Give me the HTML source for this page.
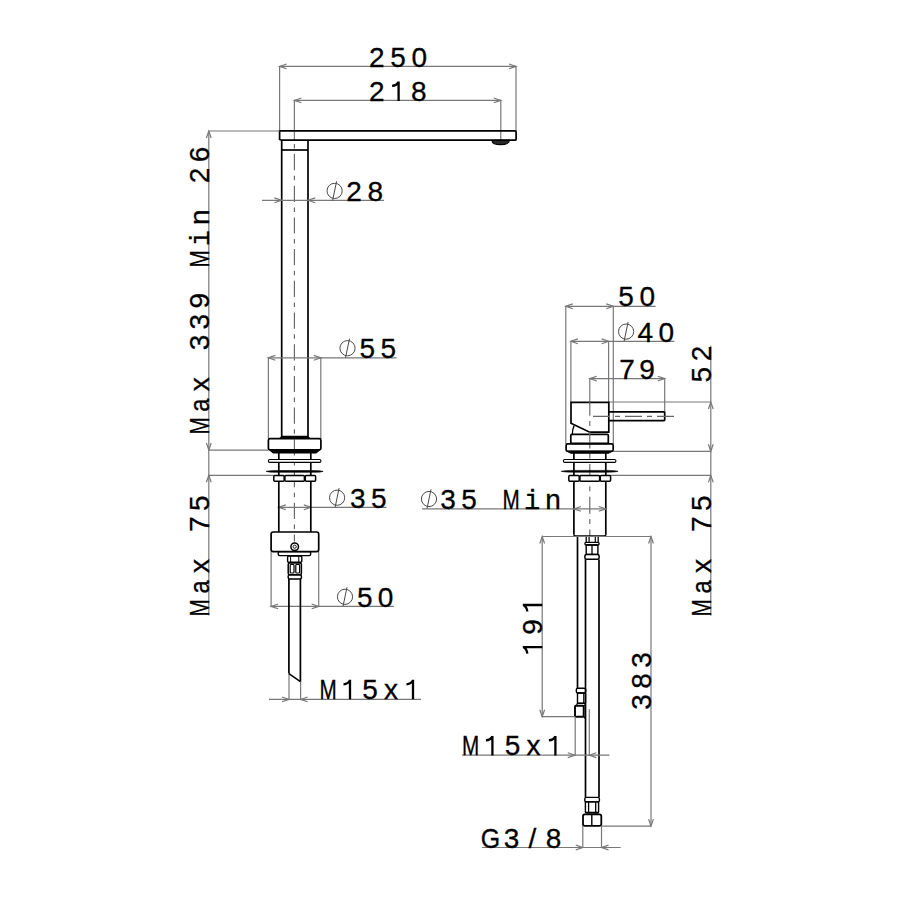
<!DOCTYPE html>
<html><head><meta charset="utf-8"><style>
html,body{margin:0;padding:0;background:#fff;width:900px;height:900px;overflow:hidden}
svg{display:block}
text{fill:#000;stroke:#000;stroke-width:0.3}
</style></head><body>
<svg width="900" height="900" viewBox="0 0 900 900">
<rect width="900" height="900" fill="#fff"/>
<line x1="279.6" y1="66.4" x2="279.6" y2="131" stroke="#787878" stroke-width="1.2" />
<line x1="516" y1="66.4" x2="516" y2="131" stroke="#787878" stroke-width="1.2" />
<line x1="279.6" y1="66.4" x2="516" y2="66.4" stroke="#787878" stroke-width="1.2" />
<path d="M286.60,64.00 L279.6,66.4 L286.60,68.80" fill="none" stroke="#787878" stroke-width="1.2"/>
<path d="M509.00,68.80 L516,66.4 L509.00,64.00" fill="none" stroke="#787878" stroke-width="1.2"/>
<text x="0" y="0" font-family="Liberation Sans" font-size="28" text-anchor="middle" transform="translate(376.7,66.7)">2</text>
<text x="0" y="0" font-family="Liberation Sans" font-size="28" text-anchor="middle" transform="translate(398.0,66.7)">5</text>
<text x="0" y="0" font-family="Liberation Sans" font-size="28" text-anchor="middle" transform="translate(419.3,66.7)">0</text>
<line x1="294.4" y1="100.4" x2="294.4" y2="140" stroke="#787878" stroke-width="1.2" />
<line x1="500.8" y1="100.4" x2="500.8" y2="140.3" stroke="#787878" stroke-width="1.2" />
<line x1="294.4" y1="100.4" x2="500.8" y2="100.4" stroke="#787878" stroke-width="1.2" />
<path d="M301.40,98.00 L294.4,100.4 L301.40,102.80" fill="none" stroke="#787878" stroke-width="1.2"/>
<path d="M493.80,102.80 L500.8,100.4 L493.80,98.00" fill="none" stroke="#787878" stroke-width="1.2"/>
<text x="0" y="0" font-family="Liberation Sans" font-size="28" text-anchor="middle" transform="translate(376.7,100.9)">2</text>
<path d="M0.9,0 L0.9,-19.5 M1.0,-19.0 Q-1.0,-15.4 -5.6,-15.0" fill="none" stroke="#000" stroke-width="2.3" transform="translate(397.7,100.9)"/>
<text x="0" y="0" font-family="Liberation Sans" font-size="28" text-anchor="middle" transform="translate(418.7,100.9)">8</text>
<path d="M279.6,130.8 L515,130.8 Q516.1,130.8 516.1,132 L516.1,139.2 Q516.1,140.2 515,140.2 L281.7,140.2 L279.6,139.5 Z" fill="none" stroke="#000" stroke-width="1.7" />
<path d="M491.9,140.3 Q492.5,144.7 500.7,144.7 Q509,144.7 509.4,140.3 Z" fill="#2a2a2a" stroke="#000" stroke-width="1.2" />
<line x1="281.7" y1="140.2" x2="281.7" y2="436.5" stroke="#000" stroke-width="1.7" />
<line x1="308" y1="140.2" x2="308" y2="436.5" stroke="#000" stroke-width="1.7" />
<line x1="281.7" y1="150" x2="308" y2="150" stroke="#000" stroke-width="1.7" />
<line x1="294.4" y1="143" x2="294.4" y2="541.5" stroke="#666666" stroke-width="1.15" stroke-dasharray="16.2 5.5 4.5 5.5" stroke-dashoffset="20.7"/>
<line x1="208.8" y1="131" x2="208.8" y2="615.6" stroke="#787878" stroke-width="1.2" />
<path d="M211.20,138.00 L208.8,131 L206.40,138.00" fill="none" stroke="#787878" stroke-width="1.2"/>
<path d="M206.40,443.00 L208.8,450 L211.20,443.00" fill="none" stroke="#787878" stroke-width="1.2"/>
<path d="M211.20,482.30 L208.8,475.3 L206.40,482.30" fill="none" stroke="#787878" stroke-width="1.2"/>
<line x1="208.8" y1="131" x2="279.6" y2="131" stroke="#787878" stroke-width="1.2" />
<line x1="208.8" y1="450.2" x2="268.4" y2="450.2" stroke="#787878" stroke-width="1.2" />
<line x1="208.8" y1="475.3" x2="273.8" y2="475.3" stroke="#787878" stroke-width="1.2" />
<text x="0" y="0" font-family="Liberation Sans" font-size="28" text-anchor="middle" transform="translate(209,426.0) rotate(-90) scale(0.74,1)">M</text>
<text x="0" y="0" font-family="Liberation Sans" font-size="28" text-anchor="middle" transform="translate(209,405.12) rotate(-90) scale(0.85,1)">a</text>
<text x="0" y="0" font-family="Liberation Sans" font-size="28" text-anchor="middle" transform="translate(209,384.24) rotate(-90)">x</text>
<text x="0" y="0" font-family="Liberation Sans" font-size="28" text-anchor="middle" transform="translate(209,342.48) rotate(-90)">3</text>
<text x="0" y="0" font-family="Liberation Sans" font-size="28" text-anchor="middle" transform="translate(209,321.6) rotate(-90)">3</text>
<text x="0" y="0" font-family="Liberation Sans" font-size="28" text-anchor="middle" transform="translate(209,300.72) rotate(-90)">9</text>
<text x="0" y="0" font-family="Liberation Sans" font-size="28" text-anchor="middle" transform="translate(209,258.96000000000004) rotate(-90) scale(0.74,1)">M</text>
<text x="0" y="0" font-family="Liberation Mono" font-size="27" text-anchor="middle" transform="translate(209,238.08) rotate(-90)">i</text>
<text x="0" y="0" font-family="Liberation Sans" font-size="28" text-anchor="middle" transform="translate(209,217.20000000000002) rotate(-90)">n</text>
<text x="0" y="0" font-family="Liberation Sans" font-size="28" text-anchor="middle" transform="translate(209,175.44) rotate(-90)">2</text>
<text x="0" y="0" font-family="Liberation Sans" font-size="28" text-anchor="middle" transform="translate(209,154.56) rotate(-90)">6</text>
<text x="0" y="0" font-family="Liberation Sans" font-size="28" text-anchor="middle" transform="translate(209,607.8) rotate(-90) scale(0.74,1)">M</text>
<text x="0" y="0" font-family="Liberation Sans" font-size="28" text-anchor="middle" transform="translate(209,586.9) rotate(-90) scale(0.85,1)">a</text>
<text x="0" y="0" font-family="Liberation Sans" font-size="28" text-anchor="middle" transform="translate(209,566.0) rotate(-90)">x</text>
<text x="0" y="0" font-family="Liberation Sans" font-size="28" text-anchor="middle" transform="translate(209,524.1999999999999) rotate(-90)">7</text>
<text x="0" y="0" font-family="Liberation Sans" font-size="28" text-anchor="middle" transform="translate(209,503.29999999999995) rotate(-90)">5</text>
<line x1="262.1" y1="200.3" x2="383.9" y2="200.3" stroke="#787878" stroke-width="1.2" />
<path d="M274.40,202.70 L281.4,200.3 L274.40,197.90" fill="none" stroke="#787878" stroke-width="1.2"/>
<path d="M315.20,197.90 L308.2,200.3 L315.20,202.70" fill="none" stroke="#787878" stroke-width="1.2"/>
<circle cx="334.6" cy="190.9" r="7.6" fill="none" stroke="#4a4a4a" stroke-width="1.0"/>
<line x1="332.6" y1="200.5" x2="336.6" y2="181.3" stroke="#4a4a4a" stroke-width="1.0"/>
<text x="0" y="0" font-family="Liberation Sans" font-size="28" text-anchor="middle" transform="translate(354.1,200.7)">2</text>
<text x="0" y="0" font-family="Liberation Sans" font-size="28" text-anchor="middle" transform="translate(375.20000000000005,200.7)">8</text>
<line x1="268.4" y1="357.8" x2="268.4" y2="438.7" stroke="#787878" stroke-width="1.2" />
<line x1="320.8" y1="357.8" x2="320.8" y2="438.7" stroke="#787878" stroke-width="1.2" />
<line x1="268.4" y1="357.8" x2="396.7" y2="357.8" stroke="#787878" stroke-width="1.2" />
<path d="M275.40,355.40 L268.4,357.8 L275.40,360.20" fill="none" stroke="#787878" stroke-width="1.2"/>
<path d="M313.80,360.20 L320.8,357.8 L313.80,355.40" fill="none" stroke="#787878" stroke-width="1.2"/>
<circle cx="347.5" cy="348.2" r="7.6" fill="none" stroke="#4a4a4a" stroke-width="1.0"/>
<line x1="345.5" y1="357.8" x2="349.5" y2="338.59999999999997" stroke="#4a4a4a" stroke-width="1.0"/>
<text x="0" y="0" font-family="Liberation Sans" font-size="28" text-anchor="middle" transform="translate(367.3,358)">5</text>
<text x="0" y="0" font-family="Liberation Sans" font-size="28" text-anchor="middle" transform="translate(388.3,358)">5</text>
<line x1="278.8" y1="507.3" x2="386.5" y2="507.3" stroke="#787878" stroke-width="1.2" />
<path d="M285.80,504.90 L278.8,507.3 L285.80,509.70" fill="none" stroke="#787878" stroke-width="1.2"/>
<path d="M303.80,509.70 L310.8,507.3 L303.80,504.90" fill="none" stroke="#787878" stroke-width="1.2"/>
<circle cx="337.1" cy="497.7" r="7.6" fill="none" stroke="#4a4a4a" stroke-width="1.0"/>
<line x1="335.1" y1="507.3" x2="339.1" y2="488.09999999999997" stroke="#4a4a4a" stroke-width="1.0"/>
<text x="0" y="0" font-family="Liberation Sans" font-size="28" text-anchor="middle" transform="translate(357.8,507.7)">3</text>
<text x="0" y="0" font-family="Liberation Sans" font-size="28" text-anchor="middle" transform="translate(378.8,507.7)">5</text>
<line x1="271.1" y1="551.6" x2="271.1" y2="606.4" stroke="#787878" stroke-width="1.2" />
<line x1="318.7" y1="551.6" x2="318.7" y2="606.4" stroke="#787878" stroke-width="1.2" />
<line x1="271.1" y1="606.4" x2="393.8" y2="606.4" stroke="#787878" stroke-width="1.2" />
<path d="M278.10,604.00 L271.1,606.4 L278.10,608.80" fill="none" stroke="#787878" stroke-width="1.2"/>
<path d="M311.70,608.80 L318.7,606.4 L311.70,604.00" fill="none" stroke="#787878" stroke-width="1.2"/>
<circle cx="345" cy="596.8" r="7.6" fill="none" stroke="#4a4a4a" stroke-width="1.0"/>
<line x1="343" y1="606.4" x2="347" y2="587.1999999999999" stroke="#4a4a4a" stroke-width="1.0"/>
<text x="0" y="0" font-family="Liberation Sans" font-size="28" text-anchor="middle" transform="translate(364.85,606.6)">5</text>
<text x="0" y="0" font-family="Liberation Sans" font-size="28" text-anchor="middle" transform="translate(385.6,606.6)">0</text>
<line x1="289" y1="673.6" x2="289" y2="699.4" stroke="#787878" stroke-width="1.2" />
<line x1="300.6" y1="681.6" x2="300.6" y2="699.4" stroke="#787878" stroke-width="1.2" />
<line x1="269" y1="699.4" x2="421" y2="699.4" stroke="#787878" stroke-width="1.2" />
<path d="M282.00,701.80 L289,699.4 L282.00,697.00" fill="none" stroke="#787878" stroke-width="1.2"/>
<path d="M307.60,697.00 L300.6,699.4 L307.60,701.80" fill="none" stroke="#787878" stroke-width="1.2"/>
<text x="0" y="0" font-family="Liberation Sans" font-size="28" text-anchor="middle" transform="translate(328.1,699.3) scale(0.74,1)">M</text>
<path d="M0.9,0 L0.9,-19.5 M1.0,-19.0 Q-1.0,-15.4 -5.6,-15.0" fill="none" stroke="#000" stroke-width="2.3" transform="translate(349.1,699.3)"/>
<text x="0" y="0" font-family="Liberation Sans" font-size="28" text-anchor="middle" transform="translate(370.1,699.3)">5</text>
<text x="0" y="0" font-family="Liberation Sans" font-size="28" text-anchor="middle" transform="translate(391.1,699.3)">x</text>
<path d="M0.9,0 L0.9,-19.5 M1.0,-19.0 Q-1.0,-15.4 -5.6,-15.0" fill="none" stroke="#000" stroke-width="2.3" transform="translate(412.1,699.3)"/>
<path d="M281,435.8 Q281.2,437.6 278,438.6 L311.7,438.6 Q308.5,437.6 308.7,435.8 Z" fill="#000" stroke="#000" stroke-width="0" />
<rect x="268.4" y="438.7" width="52.5" height="11.1" rx="1.6" fill="none" stroke="#000" stroke-width="1.7"/>
<path d="M269.5,450 L273,453 L316.3,453 L319.8,450 Z" fill="#000" stroke="#000" stroke-width="1" />
<line x1="278.8" y1="453" x2="278.8" y2="532" stroke="#000" stroke-width="1.7" />
<line x1="310.8" y1="453" x2="310.8" y2="532" stroke="#000" stroke-width="1.7" />
<rect x="268.4" y="459.5" width="52.5" height="2.9" rx="1.3" fill="#fff" stroke="#000" stroke-width="1.1"/>
<path d="M266.2,471.4 Q270,470.4 280,470.5 L310,470.5 Q320,470.4 323.1,471.4 Q320,472.4 310,472.3 L280,472.3 Q270,472.4 266.2,471.4 Z" fill="#000" stroke="#000" stroke-width="0.6" />
<rect x="273.8" y="475.6" width="10.4" height="5.7" rx="1" fill="#fff" stroke="#000" stroke-width="1.5"/>
<rect x="284.9" y="475.6" width="19.5" height="5.7" rx="1" fill="#fff" stroke="#000" stroke-width="1.5"/>
<rect x="305.3" y="475.6" width="10.3" height="5.7" rx="1" fill="#fff" stroke="#000" stroke-width="1.5"/>
<rect x="271.1" y="532" width="47.6" height="19.6" rx="2.2" fill="none" stroke="#000" stroke-width="1.7"/>
<circle cx="294.7" cy="546.7" r="3.8" fill="none" stroke="#000" stroke-width="1.5"/>
<circle cx="294.7" cy="546.7" r="1.6" fill="none" stroke="#000" stroke-width="0.9"/>
<rect x="278.2" y="551.6" width="32.5" height="4" rx="1.5" fill="none" stroke="#000" stroke-width="1.4"/>
<rect x="287.6" y="556" width="14.2" height="6.2" rx="1" fill="none" stroke="#000" stroke-width="1.4"/>
<line x1="290.6" y1="556" x2="290.6" y2="562.2" stroke="#000" stroke-width="1" />
<line x1="298.8" y1="556" x2="298.8" y2="562.2" stroke="#000" stroke-width="1" />
<rect x="288.2" y="563" width="13.2" height="11.7" rx="1.5" fill="none" stroke="#000" stroke-width="1.5"/>
<rect x="290.2" y="564.5" width="3.8" height="8.5" rx="0.8" fill="none" stroke="#000" stroke-width="1.2"/>
<rect x="295.8" y="564.5" width="3.8" height="8.5" rx="0.8" fill="none" stroke="#000" stroke-width="1.2"/>
<rect x="288.2" y="574.7" width="13.2" height="4.3" rx="1.5" fill="none" stroke="#000" stroke-width="1.5"/>
<line x1="288.9" y1="579" x2="288.9" y2="673.6" stroke="#000" stroke-width="1.7" />
<line x1="300.4" y1="579" x2="300.4" y2="681.6" stroke="#000" stroke-width="1.7" />
<line x1="288.9" y1="673.6" x2="300.4" y2="681.6" stroke="#000" stroke-width="1.4" />
<line x1="565.8" y1="306.3" x2="565.8" y2="444" stroke="#787878" stroke-width="1.2" />
<line x1="613.3" y1="306.3" x2="613.3" y2="444" stroke="#787878" stroke-width="1.2" />
<line x1="565.8" y1="306.3" x2="655.6" y2="306.3" stroke="#787878" stroke-width="1.2" />
<path d="M572.80,303.90 L565.8,306.3 L572.80,308.70" fill="none" stroke="#787878" stroke-width="1.2"/>
<path d="M606.30,308.70 L613.3,306.3 L606.30,303.90" fill="none" stroke="#787878" stroke-width="1.2"/>
<text x="0" y="0" font-family="Liberation Sans" font-size="28" text-anchor="middle" transform="translate(626.1,306.2)">5</text>
<text x="0" y="0" font-family="Liberation Sans" font-size="28" text-anchor="middle" transform="translate(647.3000000000001,306.2)">0</text>
<line x1="570.9" y1="341.3" x2="570.9" y2="402.3" stroke="#787878" stroke-width="1.2" />
<line x1="608.6" y1="341.3" x2="608.6" y2="402.3" stroke="#787878" stroke-width="1.2" />
<line x1="570.9" y1="341.3" x2="674.4" y2="341.3" stroke="#787878" stroke-width="1.2" />
<path d="M577.90,338.90 L570.9,341.3 L577.90,343.70" fill="none" stroke="#787878" stroke-width="1.2"/>
<path d="M601.60,343.70 L608.6,341.3 L601.60,338.90" fill="none" stroke="#787878" stroke-width="1.2"/>
<circle cx="626.1" cy="331.6" r="7.6" fill="none" stroke="#4a4a4a" stroke-width="1.0"/>
<line x1="624.1" y1="341.20000000000005" x2="628.1" y2="322.0" stroke="#4a4a4a" stroke-width="1.0"/>
<text x="0" y="0" font-family="Liberation Sans" font-size="28" text-anchor="middle" transform="translate(645.4,341.5)">4</text>
<text x="0" y="0" font-family="Liberation Sans" font-size="28" text-anchor="middle" transform="translate(666.4,341.5)">0</text>
<line x1="589.8" y1="378.6" x2="589.8" y2="402.3" stroke="#787878" stroke-width="1.2" />
<line x1="664.7" y1="378.7" x2="664.7" y2="412" stroke="#787878" stroke-width="1.2" />
<line x1="589.8" y1="378.6" x2="664.7" y2="378.6" stroke="#787878" stroke-width="1.2" />
<path d="M596.80,376.20 L589.8,378.6 L596.80,381.00" fill="none" stroke="#787878" stroke-width="1.2"/>
<path d="M657.70,381.00 L664.7,378.6 L657.70,376.20" fill="none" stroke="#787878" stroke-width="1.2"/>
<text x="0" y="0" font-family="Liberation Sans" font-size="28" text-anchor="middle" transform="translate(627.0,378.8)">7</text>
<text x="0" y="0" font-family="Liberation Sans" font-size="28" text-anchor="middle" transform="translate(647.0,378.8)">9</text>
<line x1="710.8" y1="345.8" x2="710.8" y2="615.8" stroke="#787878" stroke-width="1.2" />
<path d="M713.20,409.00 L710.8,402 L708.40,409.00" fill="none" stroke="#787878" stroke-width="1.2"/>
<path d="M708.40,444.30 L710.8,451.3 L713.20,444.30" fill="none" stroke="#787878" stroke-width="1.2"/>
<path d="M713.20,482.40 L710.8,475.4 L708.40,482.40" fill="none" stroke="#787878" stroke-width="1.2"/>
<line x1="608.8" y1="402" x2="710.8" y2="402" stroke="#787878" stroke-width="1.2" />
<line x1="613.2" y1="451.3" x2="710.8" y2="451.3" stroke="#787878" stroke-width="1.2" />
<line x1="610.6" y1="475.4" x2="710.8" y2="475.4" stroke="#787878" stroke-width="1.2" />
<text x="0" y="0" font-family="Liberation Sans" font-size="28" text-anchor="middle" transform="translate(711.2,374.6) rotate(-90)">5</text>
<text x="0" y="0" font-family="Liberation Sans" font-size="28" text-anchor="middle" transform="translate(711.2,353.40000000000003) rotate(-90)">2</text>
<text x="0" y="0" font-family="Liberation Sans" font-size="28" text-anchor="middle" transform="translate(711.2,607.8) rotate(-90) scale(0.74,1)">M</text>
<text x="0" y="0" font-family="Liberation Sans" font-size="28" text-anchor="middle" transform="translate(711.2,586.9) rotate(-90) scale(0.85,1)">a</text>
<text x="0" y="0" font-family="Liberation Sans" font-size="28" text-anchor="middle" transform="translate(711.2,566.0) rotate(-90)">x</text>
<text x="0" y="0" font-family="Liberation Sans" font-size="28" text-anchor="middle" transform="translate(711.2,524.1999999999999) rotate(-90)">7</text>
<text x="0" y="0" font-family="Liberation Sans" font-size="28" text-anchor="middle" transform="translate(711.2,503.29999999999995) rotate(-90)">5</text>
<path d="M571,402.3 L608.8,402.3 L608.8,432.2 L589.7,432.2 L571,423.3 Z" fill="none" stroke="#000" stroke-width="1.7" />
<path d="M574.1,425.6 Q572.5,429 572.3,434.2" fill="none" stroke="#000" stroke-width="1.3" />
<rect x="570.8" y="434.4" width="37.5" height="9" rx="1" fill="none" stroke="#000" stroke-width="1.7"/>
<line x1="608.8" y1="411.8" x2="664.7" y2="411.8" stroke="#000" stroke-width="1.7" />
<line x1="608.8" y1="420.7" x2="664.7" y2="420.7" stroke="#000" stroke-width="1.7" />
<line x1="664.7" y1="411.8" x2="664.7" y2="420.7" stroke="#000" stroke-width="1.7" />
<line x1="593" y1="416.3" x2="674.2" y2="416.3" stroke="#666666" stroke-width="1.15" stroke-dasharray="17 5 5 5" stroke-dashoffset="0"/>
<line x1="589.8" y1="401" x2="589.8" y2="536" stroke="#666666" stroke-width="1.15" stroke-dasharray="17 5.2 5 5.5" stroke-dashoffset="2.3"/>
<rect x="566.1" y="443.8" width="47.1" height="7.5" rx="1.6" fill="none" stroke="#000" stroke-width="1.7"/>
<path d="M567.2,451.2 L570.5,453.2 L608.8,453.2 L612.1,451.2 Z" fill="#000" stroke="#000" stroke-width="1" />
<line x1="573.9" y1="453" x2="573.9" y2="534.6" stroke="#000" stroke-width="1.7" />
<line x1="605.8" y1="453" x2="605.8" y2="534.6" stroke="#000" stroke-width="1.7" />
<path d="M573.9,534.5 Q573.9,536.1 575.5,536.1 L604.2,536.1 Q605.8,536.1 605.8,534.5" fill="none" stroke="#000" stroke-width="1.7" />
<rect x="563.4" y="459.5" width="52.5" height="2.9" rx="1.3" fill="#fff" stroke="#000" stroke-width="1.1"/>
<path d="M561.2,471.3 Q565,470.3 575,470.4 L605,470.4 Q615,470.3 618.1,471.3 Q615,472.3 605,472.2 L575,472.2 Q565,472.3 561.2,471.3 Z" fill="#000" stroke="#000" stroke-width="0.6" />
<rect x="568.8" y="475.6" width="10.4" height="5.6" rx="1" fill="#fff" stroke="#000" stroke-width="1.5"/>
<rect x="579.9" y="475.6" width="19.7" height="5.6" rx="1" fill="#fff" stroke="#000" stroke-width="1.5"/>
<rect x="600.3" y="475.6" width="10.3" height="5.6" rx="1" fill="#fff" stroke="#000" stroke-width="1.5"/>
<line x1="422" y1="508.9" x2="605.8" y2="508.9" stroke="#787878" stroke-width="1.2" />
<path d="M580.90,506.50 L573.9,508.9 L580.90,511.30" fill="none" stroke="#787878" stroke-width="1.2"/>
<path d="M598.80,511.30 L605.8,508.9 L598.80,506.50" fill="none" stroke="#787878" stroke-width="1.2"/>
<circle cx="429" cy="499" r="7.6" fill="none" stroke="#4a4a4a" stroke-width="1.0"/>
<line x1="427" y1="508.6" x2="431" y2="489.4" stroke="#4a4a4a" stroke-width="1.0"/>
<text x="0" y="0" font-family="Liberation Sans" font-size="28" text-anchor="middle" transform="translate(448.0,509)">3</text>
<text x="0" y="0" font-family="Liberation Sans" font-size="28" text-anchor="middle" transform="translate(469.0,509)">5</text>
<text x="0" y="0" font-family="Liberation Sans" font-size="28" text-anchor="middle" transform="translate(511.0,509) scale(0.74,1)">M</text>
<text x="0" y="0" font-family="Liberation Mono" font-size="27" text-anchor="middle" transform="translate(532.0,509)">i</text>
<text x="0" y="0" font-family="Liberation Sans" font-size="28" text-anchor="middle" transform="translate(553.0,509)">n</text>
<line x1="577.5" y1="536" x2="577.5" y2="688.3" stroke="#000" stroke-width="1.7" />
<line x1="585.5" y1="559.4" x2="585.5" y2="688.3" stroke="#000" stroke-width="1.7" />
<line x1="586.2" y1="536" x2="586.2" y2="542.3" stroke="#000" stroke-width="1.3" />
<line x1="589.1" y1="536" x2="589.1" y2="542.3" stroke="#000" stroke-width="1.2" />
<line x1="595.3" y1="536" x2="595.3" y2="542.3" stroke="#000" stroke-width="1.2" />
<line x1="598.2" y1="536" x2="598.2" y2="542.3" stroke="#000" stroke-width="1.3" />
<rect x="584.9" y="542.4" width="14.2" height="2.6" rx="1.2" fill="#fff" stroke="#000" stroke-width="1.3"/>
<rect x="586.2" y="545" width="11.7" height="9.4" rx="0.5" fill="none" stroke="#000" stroke-width="1.4"/>
<line x1="592" y1="545" x2="592" y2="554.4" stroke="#000" stroke-width="1.3" />
<rect x="584.9" y="554.6" width="14.2" height="4.6" rx="1.5" fill="#fff" stroke="#000" stroke-width="1.5"/>
<line x1="599" y1="559.4" x2="599" y2="797.3" stroke="#000" stroke-width="1.7" />
<line x1="585.5" y1="688.3" x2="585.5" y2="797.3" stroke="#000" stroke-width="1.7" />
<rect x="576.3" y="688.3" width="9.4" height="4.7" rx="1.5" fill="none" stroke="#000" stroke-width="1.4"/>
<rect x="577.5" y="693" width="8" height="10.3" rx="0.8" fill="none" stroke="#000" stroke-width="1.4"/>
<line x1="583.7" y1="693" x2="583.7" y2="703.3" stroke="#000" stroke-width="1.1" />
<rect x="576.8" y="703.3" width="8.5" height="2.2" rx="1" fill="none" stroke="#000" stroke-width="1.2"/>
<rect x="575" y="705.7" width="8.7" height="11" rx="0.8" fill="none" stroke="#000" stroke-width="1.9"/>
<line x1="583.7" y1="716.7" x2="585.5" y2="718.5" stroke="#000" stroke-width="1.3" />
<rect x="584.8" y="797.4" width="14.6" height="4.5" rx="1.5" fill="#fff" stroke="#000" stroke-width="1.4"/>
<rect x="585.4" y="801.9" width="13.2" height="10.5" rx="0.5" fill="none" stroke="#000" stroke-width="1.4"/>
<line x1="588.6" y1="801.9" x2="588.6" y2="812.4" stroke="#000" stroke-width="1.3" />
<line x1="595.7" y1="801.9" x2="595.7" y2="812.4" stroke="#000" stroke-width="1.3" />
<line x1="585.4" y1="813.2" x2="598.6" y2="813.2" stroke="#000" stroke-width="1.0" />
<rect x="583" y="814.4" width="18.3" height="11.5" rx="1.8" fill="none" stroke="#000" stroke-width="1.8"/>
<line x1="591.8" y1="814.4" x2="591.8" y2="825.9" stroke="#000" stroke-width="1.4" />
<line x1="542.2" y1="536.5" x2="542.2" y2="716.7" stroke="#787878" stroke-width="1.2" />
<path d="M544.60,543.50 L542.2,536.5 L539.80,543.50" fill="none" stroke="#787878" stroke-width="1.2"/>
<path d="M539.80,709.70 L542.2,716.7 L544.60,709.70" fill="none" stroke="#787878" stroke-width="1.2"/>
<line x1="542.2" y1="536.5" x2="651" y2="536.5" stroke="#787878" stroke-width="1.2" />
<line x1="542.2" y1="716.7" x2="575" y2="716.7" stroke="#787878" stroke-width="1.2" />
<path d="M0.9,0 L0.9,-19.5 M1.0,-19.0 Q-1.0,-15.4 -5.6,-15.0" fill="none" stroke="#000" stroke-width="2.3" transform="translate(542.3,648.1) rotate(-90)"/>
<text x="0" y="0" font-family="Liberation Sans" font-size="28" text-anchor="middle" transform="translate(542.3,627.0) rotate(-90)">9</text>
<path d="M0.9,0 L0.9,-19.5 M1.0,-19.0 Q-1.0,-15.4 -5.6,-15.0" fill="none" stroke="#000" stroke-width="2.3" transform="translate(542.3,605.9) rotate(-90)"/>
<line x1="651" y1="536.5" x2="651" y2="826.1" stroke="#787878" stroke-width="1.2" />
<path d="M653.40,543.50 L651,536.5 L648.60,543.50" fill="none" stroke="#787878" stroke-width="1.2"/>
<path d="M648.60,819.10 L651,826.1 L653.40,819.10" fill="none" stroke="#787878" stroke-width="1.2"/>
<line x1="601.5" y1="826.1" x2="651" y2="826.1" stroke="#787878" stroke-width="1.2" />
<text x="0" y="0" font-family="Liberation Sans" font-size="28" text-anchor="middle" transform="translate(651,702.0) rotate(-90)">3</text>
<text x="0" y="0" font-family="Liberation Sans" font-size="28" text-anchor="middle" transform="translate(651,681.0) rotate(-90)">8</text>
<text x="0" y="0" font-family="Liberation Sans" font-size="28" text-anchor="middle" transform="translate(651,660.0) rotate(-90)">3</text>
<line x1="575.2" y1="716.7" x2="575.2" y2="755.2" stroke="#787878" stroke-width="1.2" />
<line x1="589.3" y1="709.3" x2="589.3" y2="755.2" stroke="#787878" stroke-width="1.2" />
<line x1="462" y1="755.2" x2="609.5" y2="755.2" stroke="#787878" stroke-width="1.2" />
<path d="M567.80,757.60 L574.8,755.2 L567.80,752.80" fill="none" stroke="#787878" stroke-width="1.2"/>
<path d="M596.30,752.80 L589.3,755.2 L596.30,757.60" fill="none" stroke="#787878" stroke-width="1.2"/>
<text x="0" y="0" font-family="Liberation Sans" font-size="28" text-anchor="middle" transform="translate(470.5,755.4) scale(0.74,1)">M</text>
<path d="M0.9,0 L0.9,-19.5 M1.0,-19.0 Q-1.0,-15.4 -5.6,-15.0" fill="none" stroke="#000" stroke-width="2.3" transform="translate(491.5,755.4)"/>
<text x="0" y="0" font-family="Liberation Sans" font-size="28" text-anchor="middle" transform="translate(512.5,755.4)">5</text>
<text x="0" y="0" font-family="Liberation Sans" font-size="28" text-anchor="middle" transform="translate(533.5,755.4)">x</text>
<path d="M0.9,0 L0.9,-19.5 M1.0,-19.0 Q-1.0,-15.4 -5.6,-15.0" fill="none" stroke="#000" stroke-width="2.3" transform="translate(554.5,755.4)"/>
<line x1="582.8" y1="826.1" x2="582.8" y2="847.5" stroke="#787878" stroke-width="1.2" />
<line x1="601.5" y1="826.1" x2="601.5" y2="847.5" stroke="#787878" stroke-width="1.2" />
<line x1="482" y1="847.5" x2="620.7" y2="847.5" stroke="#787878" stroke-width="1.2" />
<path d="M575.80,849.90 L582.8,847.5 L575.80,845.10" fill="none" stroke="#787878" stroke-width="1.2"/>
<path d="M608.50,845.10 L601.5,847.5 L608.50,849.90" fill="none" stroke="#787878" stroke-width="1.2"/>
<text x="0" y="0" font-family="Liberation Sans" font-size="28" text-anchor="middle" transform="translate(490.5,848) scale(0.89,1)">G</text>
<text x="0" y="0" font-family="Liberation Sans" font-size="28" text-anchor="middle" transform="translate(511.5,848)">3</text>
<text x="0" y="0" font-family="Liberation Sans" font-size="28" text-anchor="middle" transform="translate(532.5,848)">/</text>
<text x="0" y="0" font-family="Liberation Sans" font-size="28" text-anchor="middle" transform="translate(553.5,848)">8</text>
</svg></body></html>
